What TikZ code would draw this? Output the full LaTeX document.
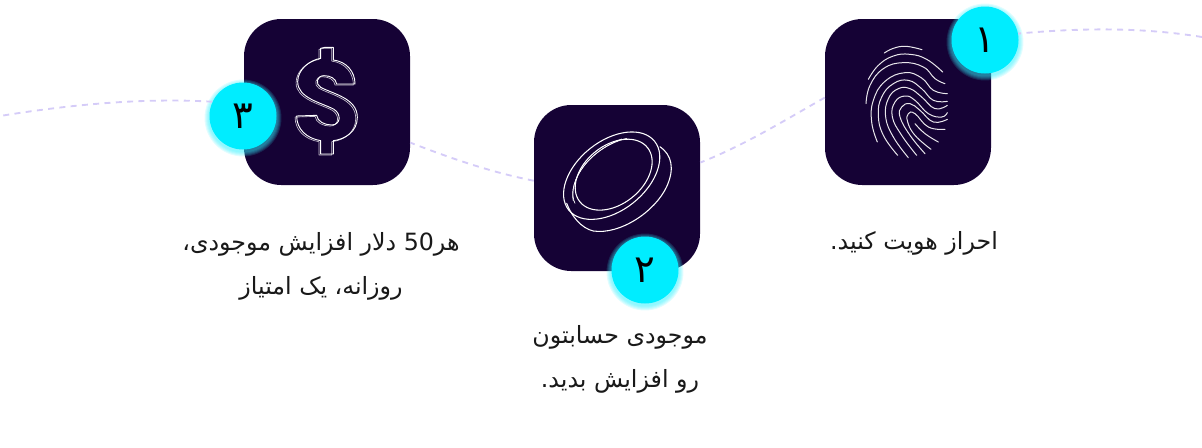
\documentclass[tikz,border=0pt]{standalone}
\usepackage{fontspec}
\setmainfont{DejaVu Sans}
\newfontfamily\arabicfont[Script=Arabic]{DejaVu Sans}
\TeXXeTstate=1
\usepackage{tikz}

\definecolor{stepink}{HTML}{150235}
\definecolor{badgecyan}{HTML}{00EDFF}
\definecolor{pathlilac}{HTML}{D5CCF8}
\tikzset{
  stepbox/.style={fill=stepink, rounded corners=28pt, minimum size=124.5pt, inner sep=0pt},
  badge/.style={circle, fill=badgecyan, minimum size=50.25pt, inner sep=0pt, font=\arabicfont\fontsize{29}{29}\selectfont},
  pathline/.style={pathlilac, line width=1.4pt, dash pattern=on 4.5pt off 4pt},
  caption/.style={align=center, inner sep=0pt, text=black!90, font=\arabicfont\fontsize{17.8}{33}\selectfont},
  iconline/.style={white, line width=0.8pt, line join=round, line cap=round},
  ridge/.style={white!90!stepink, line width=0.75pt, line cap=round, tension=0.75},
}

\newcommand{\dollarpath}{
  (375,112) -- (400,112) -- (400,150) .. controls (440,155) and (465,185) .. (465,222)
  -- (410,222) .. controls (408,205) and (390,197) .. (372,197)
  .. controls (350,197) and (345,222) .. (362,232)
  .. controls (400,252) and (472,265) .. (472,322)
  .. controls (472,365) and (435,388) .. (400,392) -- (400,432) -- (362,432) -- (362,392)
  .. controls (320,385) and (290,358) .. (290,318) -- (350,316)
  .. controls (352,335) and (375,345) .. (395,345)
  .. controls (422,345) and (425,312) .. (402,298)
  .. controls (365,278) and (293,265) .. (293,215)
  .. controls (293,178) and (330,150) .. (362,145) -- (362,115) -- cycle
}

\begin{document}
\begin{tikzpicture}[x=0.75pt, y=-0.75pt]
  \useasboundingbox (0,0) rectangle (1202,447);

  \node[stepbox] (step one) at (908,102) {};
  \node[stepbox] (step two) at (617,188) {};
  \node[stepbox] (step three) at (327,102) {};

  % fingerprint
  \begin{scope}[shift={(860,42)}, x=0.25pt, y=-0.25pt]
    \draw[ridge] plot[smooth] coordinates {(73,33) (100,19) (138,13) (186,23)};
    \draw[ridge] plot[smooth] coordinates {(25,112) (55,70) (100,42) (150,37) (200,52) (248,90)};
    \draw[ridge] plot[smooth] coordinates {(18,185) (30,130) (70,80) (130,62) (190,75) (225,110) (255,125)};
    \draw[ridge] plot[smooth] coordinates {(52,300) (35,240) (40,175) (75,118) (135,92) (185,108) (220,145) (262,155)};
    \draw[ridge] plot[smooth] coordinates {(113,340) (70,280) (55,220) (65,165) (100,125) (145,115) (185,140) (220,175) (262,178)};
    \draw[ridge] plot[smooth] coordinates {(145,347) (100,285) (77,225) (85,170) (115,140) (150,140) (185,165) (225,200) (262,190)};
    \draw[ridge] plot[smooth] coordinates {(170,340) (125,280) (97,225) (105,180) (135,162) (165,175) (205,215) (245,225) (262,212)};
    \draw[ridge] plot[smooth] coordinates {(195,335) (150,280) (120,225) (125,195) (150,185) (180,205) (220,240) (262,232)};
    \draw[ridge] plot[smooth] coordinates {(213,322) (165,280) (143,240) (145,215) (165,215) (205,255) (255,262)};
    \draw[ridge] plot[smooth] coordinates {(235,300) (195,275) (165,245)};
  \end{scope}

  % coin
  \begin{scope}[shift={(555,125)}, x=0.25pt, y=-0.25pt]
    \draw[iconline] (170,152) ellipse [x radius=165, y radius=104, rotate=38.6];
    \draw[iconline] (176,149) ellipse [x radius=130, y radius=88, rotate=38.7];
    \draw[iconline, line width=0.5pt] (60,235) .. controls (35,185) and (85,85) .. (200,42);
    \draw[iconline, line width=0.5pt] (55,228) .. controls (40,170) and (100,70) .. (215,40);
    \draw[iconline] (315,65) .. controls (350,90) and (360,130) .. (335,185)
      .. controls (300,260) and (195,330) .. (115,318) .. controls (80,310) and (50,275) .. (35,235);
  \end{scope}

  % dollar
  \begin{scope}[shift={(200,10)}, x=0.25pt, y=-0.25pt]
    \draw[iconline, line width=0.5pt, white!75!stepink, xshift=-1.2pt, yshift=-0.8pt] \dollarpath;
    \draw[iconline, line width=0.7pt] \dollarpath;
  \end{scope}

  \foreach \name/\px/\py/\digit in {one/985/40/۱, two/645/270/۲, three/243/116/۳} {
    \foreach \grow in {5,4,3,2,1}
      \fill[badgecyan!80!white, opacity=0.14] (\px,\py+2) circle (25.1pt+\grow*0.75pt);
    \node[badge] (badge \name) at (\px,\py) {\beginR\digit\endR};
  }

  \draw[pathline] (1202,37) .. controls (1140,27) and (1080,28) .. (badge one.11);
  \draw[pathline] (step one.177) .. controls (785,120) and (745,145) .. (step two.17);
  \draw[pathline] (step two.175) .. controls (490,172) and (450,158) .. (step three.-26);
  \draw[pathline] (badge three.155) .. controls (150,98) and (80,103) .. (0,116);

  \node[caption] (caption one) at (914,243) {\beginR احراز هویت کنید.\endR};
  \node[caption] (caption two) at (620,359) {\beginR موجودی حسابتون\endR\\\beginR رو افزایش بدید.\endR};
  \node[caption] (caption three) at (321,266) {\beginR هر\beginL 50\endL{} دلار افزایش موجودی،\endR\\\beginR روزانه، یک امتیاز\endR};
\end{tikzpicture}
\end{document}
